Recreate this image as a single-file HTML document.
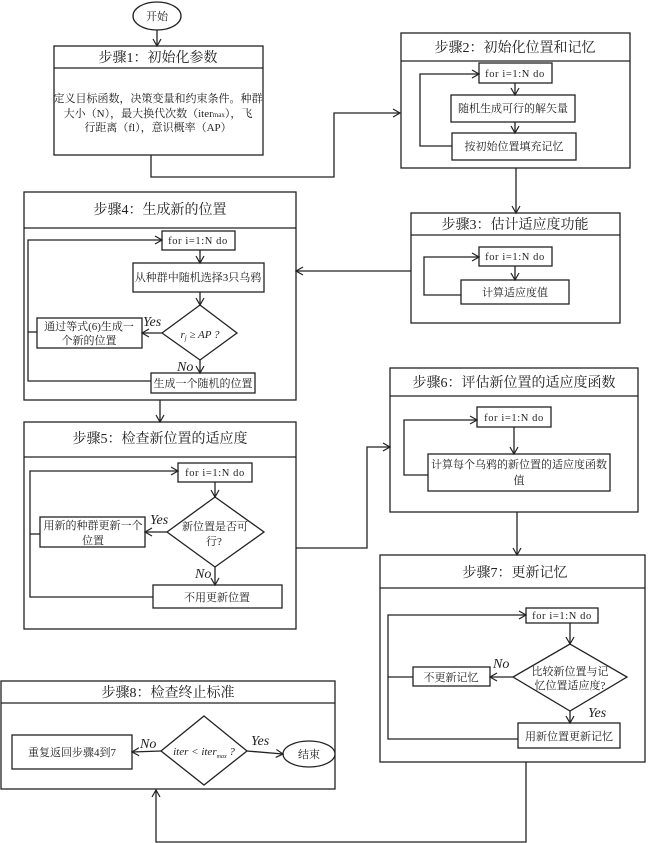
<!DOCTYPE html>
<html><head><meta charset="utf-8"><style>
html,body{margin:0;padding:0;background:#fff;}
svg{display:block;}
text{font-family:"Liberation Serif","Noto Serif CJK SC",serif;fill:#222;}
.t{font-size:14px;text-anchor:middle;}
.b{font-size:11px;text-anchor:middle;}
.m{font-family:"Liberation Serif",serif;font-size:10.5px;letter-spacing:0.6px;text-anchor:middle;}
.i{font-style:italic;font-size:14px;}
</style></head><body>
<svg width="650" height="843" viewBox="0 0 650 843" xmlns="http://www.w3.org/2000/svg">
<defs><marker id="a" markerWidth="10" markerHeight="10" refX="8" refY="5" orient="auto" markerUnits="userSpaceOnUse"><polyline points="1,1 8,5 1,9" fill="none" stroke="#222" stroke-width="1.2"/></marker></defs>
<g fill="none" stroke="#222" stroke-width="1.3">
<ellipse cx="157" cy="16" rx="24" ry="14" fill="#fff"/>
<line x1="157" y1="30" x2="157" y2="46" marker-end="url(#a)"/>
<rect x="54" y="46" width="209" height="109"/><line x1="54" y1="68" x2="263" y2="68"/>
<polyline points="151,155 151,177 334,177 334,113 400,113" marker-end="url(#a)"/>
<rect x="401" y="33" width="229" height="135"/><line x1="401" y1="61" x2="630" y2="61"/>
<rect x="479" y="63" width="73" height="20"/>
<rect x="451" y="95" width="124" height="27"/>
<rect x="452" y="133" width="124" height="27"/>
<line x1="515" y1="83" x2="515" y2="95" marker-end="url(#a)"/>
<line x1="515" y1="122" x2="515" y2="133" marker-end="url(#a)"/>
<polyline points="452,146 420,146 420,74 479,74" marker-end="url(#a)"/>
<line x1="516" y1="168" x2="516" y2="213" marker-end="url(#a)"/>
<rect x="411" y="213" width="209" height="110"/><line x1="411" y1="235" x2="620" y2="235"/>
<rect x="479" y="247" width="73" height="19"/>
<rect x="461" y="280" width="108" height="24"/>
<line x1="515" y1="266" x2="515" y2="280" marker-end="url(#a)"/>
<polyline points="461,295 424,295 424,257 479,257" marker-end="url(#a)"/>
<line x1="411" y1="271" x2="296" y2="271" marker-end="url(#a)"/>
<rect x="24" y="192" width="272" height="208"/><line x1="24" y1="228" x2="296" y2="228"/>
<rect x="162" y="231" width="73" height="19"/>
<rect x="133" y="263" width="131" height="29"/>
<polygon points="200,305 237,333 200,360 162,333"/>
<rect x="37" y="318" width="105" height="30"/>
<rect x="151" y="373" width="104" height="20"/>
<line x1="200" y1="250" x2="200" y2="263" marker-end="url(#a)"/>
<line x1="200" y1="292" x2="200" y2="305" marker-end="url(#a)"/>
<line x1="162" y1="333" x2="142" y2="333" marker-end="url(#a)"/>
<line x1="200" y1="360" x2="200" y2="373" marker-end="url(#a)"/>
<polyline points="37,332 28,332"/>
<polyline points="151,381 28,381 28,240 162,240" marker-end="url(#a)"/>
<line x1="160" y1="400" x2="160" y2="422" marker-end="url(#a)"/>
<rect x="24" y="422" width="272" height="207"/><line x1="24" y1="457" x2="296" y2="457"/>
<rect x="178" y="463" width="74" height="19"/>
<polygon points="215,497 264,532 215,567 167,532"/>
<rect x="40" y="517" width="105" height="30"/>
<rect x="153" y="585" width="129" height="23"/>
<line x1="215" y1="482" x2="215" y2="497" marker-end="url(#a)"/>
<line x1="167" y1="532" x2="145" y2="532" marker-end="url(#a)"/>
<line x1="215" y1="567" x2="215" y2="585" marker-end="url(#a)"/>
<line x1="40" y1="534" x2="30" y2="534"/>
<polyline points="153,597 30,597 30,471 178,471" marker-end="url(#a)"/>
<polyline points="296,548 367,548 367,447 390,447" marker-end="url(#a)"/>
<rect x="390" y="368" width="248" height="144"/><line x1="390" y1="396" x2="638" y2="396"/>
<rect x="477" y="407" width="74" height="20"/>
<rect x="428" y="454" width="182" height="37"/>
<line x1="514" y1="427" x2="514" y2="454" marker-end="url(#a)"/>
<polyline points="428,475 404,475 404,420 477,420" marker-end="url(#a)"/>
<line x1="517" y1="512" x2="517" y2="555" marker-end="url(#a)"/>
<rect x="380" y="555" width="265" height="207"/><line x1="380" y1="588" x2="645" y2="588"/>
<rect x="526" y="608" width="72" height="15"/>
<polygon points="570,644 627,677 570,711 513,677"/>
<rect x="413" y="667" width="77" height="19"/>
<rect x="518" y="723" width="102" height="25"/>
<line x1="570" y1="623" x2="570" y2="644" marker-end="url(#a)"/>
<line x1="513" y1="677" x2="490" y2="677" marker-end="url(#a)"/>
<line x1="570" y1="711" x2="570" y2="723" marker-end="url(#a)"/>
<line x1="413" y1="677" x2="388" y2="677"/>
<polyline points="518,739 388,739 388,615 526,615" marker-end="url(#a)"/>
<polyline points="526,762 526,842 156,842 156,790" marker-end="url(#a)"/>
<rect x="1" y="681" width="334" height="108"/><line x1="1" y1="703" x2="335" y2="703"/>
<rect x="12" y="735" width="120" height="34"/>
<polygon points="204,716 247,751 204,785 161,751"/>
<ellipse cx="309" cy="754" rx="26" ry="13" fill="#fff"/>
<line x1="161" y1="751" x2="132" y2="752" marker-end="url(#a)"/>
<line x1="247" y1="751" x2="283" y2="754" marker-end="url(#a)"/>
</g>
<text class="b" x="157" y="20">开始</text>
<text class="t" x="158" y="62">步骤1：初始化参数</text>
<text class="b" x="158" y="102">定义目标函数，决策变量和约束条件。种群</text>
<text class="b" x="158" y="117">大小（N），最大换代次数（iter<tspan font-size="7">max</tspan>），飞</text>
<text class="b" x="158" y="131">行距离（fl），意识概率（AP）</text>
<text class="t" x="515" y="52">步骤2：初始化位置和记忆</text>
<text class="m" x="515" y="77">for i=1:N do</text>
<text class="b" x="513" y="112">随机生成可行的解矢量</text>
<text class="b" x="514" y="150">按初始位置填充记忆</text>
<text class="t" x="515" y="229">步骤3：估计适应度功能</text>
<text class="m" x="515" y="260">for i=1:N do</text>
<text class="b" x="515" y="296">计算适应度值</text>
<text class="t" x="160" y="214">步骤4：生成新的位置</text>
<text class="m" x="198" y="244">for i=1:N do</text>
<text class="b" x="198" y="281">从种群中随机选择3只乌鸦</text>
<text class="b" x="200" y="338" font-style="italic" font-size="11">r<tspan font-size="7" dy="2">j</tspan><tspan dy="-2"> ≥ AP ?</tspan></text>
<text class="b" x="89" y="330">通过等式(6)生成一</text>
<text class="b" x="89" y="344">个新的位置</text>
<text class="b" x="203" y="387">生成一个随机的位置</text>
<text class="i" x="143" y="326">Yes</text>
<text class="i" x="177" y="371">No</text>
<text class="t" x="160" y="443">步骤5：检查新位置的适应度</text>
<text class="m" x="215" y="476">for i=1:N do</text>
<text class="b" x="215" y="530">新位置是否可</text>
<text class="b" x="214" y="545">行?</text>
<text class="b" x="93" y="529">用新的种群更新一个</text>
<text class="b" x="93" y="544">位置</text>
<text class="b" x="217" y="601">不用更新位置</text>
<text class="i" x="150" y="524">Yes</text>
<text class="i" x="195" y="578">No</text>
<text class="t" x="514" y="387">步骤6：评估新位置的适应度函数</text>
<text class="m" x="514" y="421">for i=1:N do</text>
<text class="b" x="519" y="468">计算每个乌鸦的新位置的适应度函数</text>
<text class="b" x="519" y="484">值</text>
<text class="t" x="515" y="577">步骤7：更新记忆</text>
<text class="m" x="562" y="619">for i=1:N do</text>
<text class="b" x="570" y="675" font-size="10.5">比较新位置与记</text>
<text class="b" x="570" y="689" font-size="10.5">忆位置适应度?</text>
<text class="b" x="451" y="681">不更新记忆</text>
<text class="b" x="569" y="740">用新位置更新记忆</text>
<text class="i" x="493" y="668">No</text>
<text class="i" x="588" y="717">Yes</text>
<text class="t" x="168" y="697">步骤8：检查终止标准</text>
<text class="b" x="72" y="756">重复返回步骤4到7</text>
<text class="b" x="204" y="755" font-style="italic" font-size="10.5">iter &lt; iter<tspan font-size="6" dy="3">max</tspan><tspan dy="-3"> ?</tspan></text>
<text class="b" x="309" y="758">结束</text>
<text class="i" x="140" y="748">No</text>
<text class="i" x="251" y="745">Yes</text>
</svg>
</body></html>
